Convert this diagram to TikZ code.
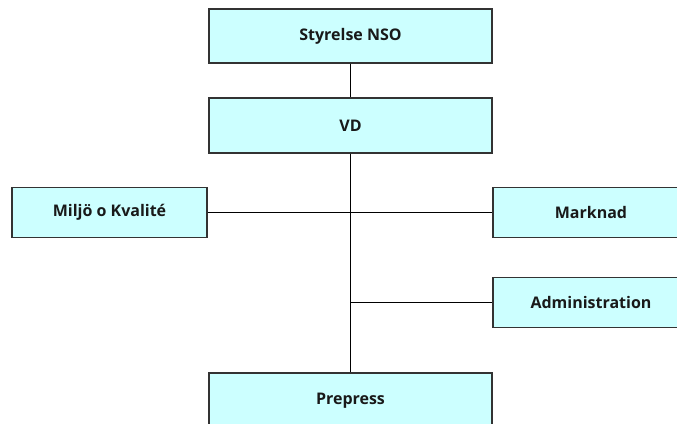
\documentclass[tikz,border=0pt]{standalone}
\usepackage{fontspec}
\setmainfont{Open Sans}
\definecolor{boxfill}{HTML}{CCFFFF}
\definecolor{boxline}{HTML}{333333}
\tikzset{
  orgbox/.style={draw=boxline, line width=1.1pt, fill=boxfill, rectangle, inner sep=0pt,
    font=\fontsize{16}{18}\selectfont\bfseries, text=black!90},
  link/.style={draw=black, line width=0.8pt}
}
\begin{document}
\begin{tikzpicture}[x=1pt, y=-1pt]
\useasboundingbox (0,0) rectangle (677,423);
\clip (0,0) rectangle (677,423);
\node[orgbox, minimum width=283pt, minimum height=54pt] (Styrelse) at (350.5,36) {Styrelse NSO};
\node[orgbox, minimum width=283pt, minimum height=55pt] (VD) at (350.5,125.5) {VD};
\node[orgbox, minimum width=195pt, minimum height=50pt] (Miljo) at (109.5,212.5) {Miljö o Kvalité};
\node[orgbox, minimum width=196pt, minimum height=50pt] (Marknad) at (591,212.5) {Marknad};
\node[orgbox, minimum width=196pt, minimum height=50pt] (Admin) at (591,302.5) {Administration};
\node[orgbox, minimum width=283pt, minimum height=55pt] (Prepress) at (350.5,400.5) {Prepress};
\coordinate (adj) at (VD.south |- Admin.west);
\draw[link] (Styrelse.south) -- (VD.north);
\draw[link] (VD.south) -- (VD.south |- Prepress.north);
\draw[link] (Miljo.east) -- (Marknad.west);
\draw[link] (adj) -- (Admin.west);
\end{tikzpicture}
\end{document}
